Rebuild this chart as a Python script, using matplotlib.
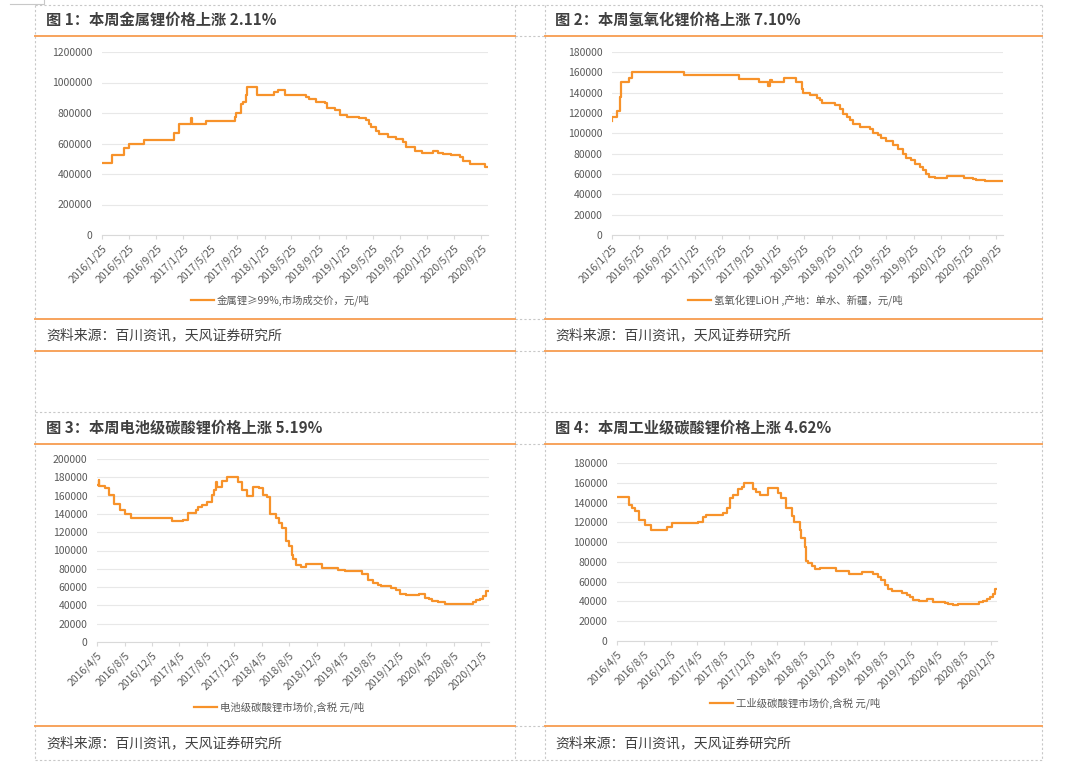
"""
四张锂盐价格走势图（天风证券周报截图的复刻），保存为 out.png
"""

import numpy as np
import pandas as pd
import matplotlib
matplotlib.use("Agg")
import matplotlib.pyplot as plt

plt.rcParams["font.family"] = ["Noto Sans CJK SC", "DejaVu Sans"]

# ==== 画布与配色 ====
W, H = 1080, 765
ORANGE = "#F7922A"      # 曲线
RULE = "#F7A35C"        # 橙色分隔线
GRID = "#E8E8E8"
AXIS = "#D9D9D9"
TXT = "#404040"
TICK = "#595959"
DASH = "#C8C8C8"

# ==== 数据（从原图读取的阶梯价格，元/吨）====
metal_dates = [
    "2016-01-25", "2016-03-10", "2016-05-05", "2016-05-25", "2016-08-03", "2016-12-12",
    "2017-01-05", "2017-03-01", "2017-03-05", "2017-05-05", "2017-09-12", "2017-09-18",
    "2017-10-10", "2017-10-20", "2017-11-01", "2017-11-08", "2017-12-20", "2018-03-10",
    "2018-03-26", "2018-04-25", "2018-07-18", "2018-08-01", "2018-08-12", "2018-09-12",
    "2018-10-22", "2018-11-03", "2018-12-06", "2018-12-29", "2019-01-28", "2019-03-27",
    "2019-04-27", "2019-05-07", "2019-05-19", "2019-06-10", "2019-06-25", "2019-08-02",
    "2019-09-09", "2019-10-09", "2019-10-24", "2019-12-01", "2020-01-01", "2020-02-22",
    "2020-03-15", "2020-04-05", "2020-05-13", "2020-06-19", "2020-07-04", "2020-08-03",
    "2020-10-10", "2020-10-25",
]
metal_vals = [
    475000, 525000, 570000, 600000, 620000, 670000,
    725000, 765000, 725000, 750000, 775000, 800000,
    860000, 875000, 920000, 970000, 920000, 940000,
    950000, 920000, 915000, 905000, 890000, 875000,
    865000, 835000, 820000, 790000, 775000, 765000,
    755000, 725000, 710000, 680000, 660000, 645000,
    630000, 610000, 580000, 550000, 540000, 550000,
    540000, 528000, 524000, 513000, 484000, 463000,
    445000, 445000,
]

lioh_dates = [
    "2016-01-25", "2016-01-27", "2016-02-17", "2016-02-28", "2016-03-06", "2016-04-11",
    "2016-04-22", "2016-12-08", "2017-08-12", "2017-11-08", "2017-12-18", "2017-12-25",
    "2018-01-02", "2018-02-24", "2018-04-22", "2018-05-17", "2018-05-21", "2018-06-20",
    "2018-07-20", "2018-08-03", "2018-08-15", "2018-10-10", "2018-10-31", "2018-11-15",
    "2018-11-30", "2018-12-15", "2018-12-29", "2019-01-28", "2019-03-12", "2019-03-27",
    "2019-04-18", "2019-05-03", "2019-05-25", "2019-06-23", "2019-07-15", "2019-08-07",
    "2019-08-22", "2019-09-13", "2019-09-28", "2019-10-20", "2019-11-04", "2019-11-19",
    "2019-12-03", "2019-12-26", "2020-02-19", "2020-05-06", "2020-06-12", "2020-06-27",
    "2020-08-03", "2020-09-25", "2020-10-24",
]
lioh_vals = [
    112000, 116000, 122000, 136000, 150000, 154000,
    160000, 157000, 153500, 150000, 147000, 152000,
    150000, 154500, 150000, 144000, 140000, 138000,
    135000, 132500, 130000, 127500, 124000, 119500,
    116000, 113000, 109500, 106000, 104500, 100000,
    98000, 95000, 92000, 89000, 85000, 80000,
    76000, 73500, 69500, 67000, 64000, 60000,
    57500, 56000, 58000, 56500, 55500, 54000,
    53300, 52700, 52700,
]

battery_dates = [
    "2016-04-05", "2016-04-12", "2016-04-15", "2016-05-11", "2016-05-30", "2016-06-21",
    "2016-07-14", "2016-08-09", "2016-09-03", "2017-03-02", "2017-04-20", "2017-05-15",
    "2017-06-17", "2017-06-29", "2017-07-13", "2017-08-05", "2017-08-27", "2017-09-07",
    "2017-09-15", "2017-09-21", "2017-10-10", "2017-11-02", "2017-12-23", "2018-01-08",
    "2018-01-30", "2018-02-26", "2018-03-25", "2018-04-12", "2018-04-27", "2018-05-14",
    "2018-06-10", "2018-06-22", "2018-07-06", "2018-07-21", "2018-08-05", "2018-08-16",
    "2018-08-23", "2018-09-07", "2018-09-29", "2018-10-18", "2018-12-27", "2019-03-09",
    "2019-04-08", "2019-06-24", "2019-07-23", "2019-08-12", "2019-09-04", "2019-09-18",
    "2019-11-02", "2019-11-24", "2019-12-08", "2020-01-07", "2020-03-03", "2020-03-28",
    "2020-04-19", "2020-05-01", "2020-05-26", "2020-06-25", "2020-07-09", "2020-09-22",
    "2020-10-28", "2020-11-12", "2020-11-27", "2020-12-12", "2020-12-24", "2021-01-08",
]
battery_vals = [
    172000, 177000, 170000, 168000, 161000, 151000,
    144500, 140000, 135000, 132000, 133500, 141500,
    144500, 147500, 150000, 153500, 161000, 166500,
    174500, 169500, 176000, 180000, 174500, 166500,
    160000, 169500, 168000, 161000, 159000, 140000,
    135500, 130000, 124500, 110000, 104500, 95500,
    90500, 84500, 82000, 85500, 81000, 79000,
    77500, 74500, 68000, 64500, 62500, 61000,
    59000, 56500, 53000, 51000, 53000, 48000,
    47000, 44500, 43500, 42000, 41000, 42000,
    43500, 45500, 47000, 50000, 55500, 55500,
]

industrial_dates = [
    "2016-04-05", "2016-06-01", "2016-06-12", "2016-06-24", "2016-07-13", "2016-08-10",
    "2016-09-06", "2016-11-17", "2016-12-10", "2017-04-10", "2017-05-02", "2017-05-14",
    "2017-08-02", "2017-08-20", "2017-09-01", "2017-09-14", "2017-10-10", "2017-10-25",
    "2017-11-05", "2017-12-17", "2017-12-29", "2018-01-17", "2018-02-24", "2018-04-10",
    "2018-04-25", "2018-05-17", "2018-06-10", "2018-06-20", "2018-07-17", "2018-07-25",
    "2018-08-10", "2018-08-14", "2018-08-22", "2018-09-10", "2018-09-25", "2018-10-17",
    "2018-12-29", "2019-02-28", "2019-04-29", "2019-06-17", "2019-07-10", "2019-07-25",
    "2019-08-10", "2019-08-25", "2019-09-10", "2019-10-29", "2019-11-17", "2019-12-02",
    "2019-12-17", "2020-01-10", "2020-02-20", "2020-03-17", "2020-05-10", "2020-05-25",
    "2020-06-17", "2020-07-10", "2020-10-10", "2020-11-01", "2020-11-17", "2020-12-02",
    "2020-12-17", "2020-12-25", "2021-01-02",
]
industrial_vals = [
    146000, 138000, 135000, 131500, 122000, 117000,
    112500, 115000, 119500, 120500, 125000, 127000,
    129000, 134500, 145000, 148000, 153500, 155500,
    160000, 153500, 150500, 147500, 154500, 150000,
    145000, 135000, 126000, 120000, 112500, 104500,
    95500, 81000, 79000, 76000, 72500, 74000,
    71000, 68000, 69500, 67500, 65000, 61500,
    56500, 53000, 50500, 48500, 46500, 44000,
    41500, 40000, 42000, 39500, 38500, 37000,
    36000, 37000, 39000, 40500, 42000, 44500,
    48000, 53000, 53000,
]

titles = [
    "图 1：本周金属锂价格上涨 2.11%",
    "图 2：本周氢氧化锂价格上涨 7.10%",
    "图 3：本周电池级碳酸锂价格上涨 5.19%",
    "图 4：本周工业级碳酸锂价格上涨 4.62%",
]
legend_labels = [
    "金属锂≥99%,市场成交价，元/吨",
    "氢氧化锂LiOH ,产地：单水、新疆，元/吨",
    "电池级碳酸锂市场价,含税 元/吨",
    "工业级碳酸锂市场价,含税 元/吨",
]
SOURCE = "资料来源：百川资讯，天风证券研究所"

fig = plt.figure(figsize=(W / 100, H / 100), dpi=100)


def px_rect(l, t, r, b):
    """像素坐标 (左, 上, 右, 下) -> figure 比例"""
    return [l / W, 1 - b / H, (r - l) / W, (b - t) / H]


# ==== 外框：灰色虚线 + 橙色分隔线 ====
frame = fig.add_axes([0, 0, 1, 1])
frame.set_xlim(0, W)
frame.set_ylim(H, 0)
frame.axis("off")

dash_kw = dict(color=DASH, lw=0.8, ls=(0, (2, 2)))
for xv in (35, 515, 545, 1042):
    frame.plot([xv, xv], [5, 760], **dash_kw)
for yv in (5, 412, 760):
    frame.plot([35, 1042], [yv, yv], **dash_kw)
for yv in (36, 319, 351, 444, 726):
    frame.plot([515, 545], [yv, yv], **dash_kw)
frame.plot([10, 44, 44], [4, 4, 0], color=DASH, lw=0.8)

for yv in (36, 319, 351, 444, 726):
    frame.plot([35, 515], [yv, yv], color=RULE, lw=1.4)
    frame.plot([545, 1042], [yv, yv], color=RULE, lw=1.4)

# 标题与来源
for (x0, ty, sy), title in zip([(46, 20, 335), (555, 20, 335), (46, 428, 743), (555, 428, 743)], titles):
    fig.text(x0 / W, 1 - ty / H, title, fontsize=11, fontweight="bold", color=TXT, va="center")
    fig.text(x0 / W, 1 - sy / H, SOURCE, fontsize=10, color=TXT, va="center")


def draw_panel(rect, dates, vals, ymax, ystep, tick_start, label, legend_xy):
    ax = fig.add_axes(px_rect(*rect))
    ax.patch.set_alpha(0)
    x = pd.to_datetime(dates)
    ax.plot(x, vals, drawstyle="steps-post", color=ORANGE, lw=1.6, label=label)
    ax.set_xlim(x[0], x[-1])
    ax.set_ylim(0, ymax)
    ax.set_yticks(np.arange(0, ymax + 1, ystep))
    ax.yaxis.set_major_formatter(lambda v, _: f"{int(v)}")

    ticks = pd.date_range(tick_start, periods=15, freq=pd.DateOffset(months=4))
    ax.set_xticks(ticks)
    ax.set_xticklabels([f"{d.year}/{d.month}/{d.day}" for d in ticks],
                       rotation=45, ha="right", va="top", rotation_mode="anchor")

    ax.grid(axis="y", color=GRID, lw=0.8)
    ax.grid(axis="x", visible=False)
    ax.set_axisbelow(True)
    for s in ("top", "right", "left"):
        ax.spines[s].set_visible(False)
    ax.spines["bottom"].set_color(AXIS)
    ax.tick_params(axis="y", length=0, pad=7, labelsize=7.5, labelcolor=TICK)
    ax.tick_params(axis="x", length=3, color=AXIS, labelsize=7.5, labelcolor=TICK, pad=3)

    ax.legend(loc="center", bbox_to_anchor=(legend_xy[0] / W, 1 - legend_xy[1] / H),
              bbox_transform=fig.transFigure, frameon=False, fontsize=7.5,
              handlelength=2.2, handletextpad=0.3, labelcolor=TICK)
    return ax


draw_panel((102, 52, 488, 235), metal_dates, metal_vals, 1200000, 200000,
           "2016-01-25", legend_labels[0], (280, 300))
draw_panel((612, 52, 1003, 235), lioh_dates, lioh_vals, 180000, 20000,
           "2016-01-25", legend_labels[1], (795, 300))
draw_panel((97, 459, 489, 642), battery_dates, battery_vals, 200000, 20000,
           "2016-04-05", legend_labels[2], (279, 707))
draw_panel((617, 463, 997, 641), industrial_dates, industrial_vals, 180000, 20000,
           "2016-04-05", legend_labels[3], (795, 703))

fig.savefig("out.png", dpi=100)
